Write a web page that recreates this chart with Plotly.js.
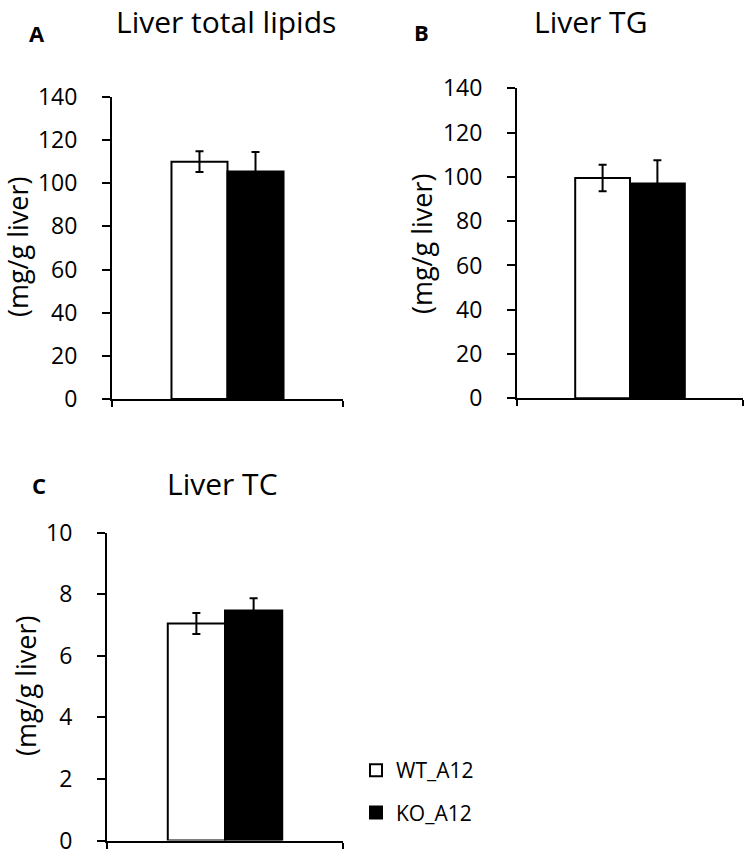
<!DOCTYPE html>
<html><head><meta charset="utf-8">
<script src="https://cdn.plot.ly/plotly-3.0.1.min.js"></script>
<style>html,body{margin:0;padding:0;background:#fff}#chart{width:750px;height:856px}</style>
</head><body><div id="chart"></div>
<script>
// ---- data ----
const groups = ['WT_A12', 'KO_A12'];
const panelTitles = ['Liver total lipids', 'Liver TG', 'Liver TC'];
const panelLetters = ['A', 'B', 'C'];
const wtMean = [110, 99.5, 7.05];
const wtErr = [4.8, 6.0, 0.34];
const koMean = [105.5, 97, 7.47];
const koErr = [9.0, 10.5, 0.40];
const yTicksAB = [0, 20, 40, 60, 80, 100, 120, 140];
const yTicksC = [0, 2, 4, 6, 8, 10];
const yTitle = '(mg/g liver)';

// ---- layout helpers ----
const W = 750, H = 856;
const px = v => v / W;
const py = v => 1 - v / H;
const FONT = "'Open Sans', Lato, sans-serif";

const axesPx = [
  {x0: 112, x1: 343, yBot: 399, yTop: 97, max: 140, ticks: yTicksAB},
  {x0: 517, x1: 743, yBot: 398.3, yTop: 88.3, max: 140, ticks: yTicksAB},
  {x0: 107, x1: 343, yBot: 840.5, yTop: 532.7, max: 10, ticks: yTicksC}
];

const traces = [];
const layout = {
  width: W, height: H,
  margin: {l: 0, r: 0, t: 0, b: 0},
  paper_bgcolor: '#fff', plot_bgcolor: '#fff',
  font: {family: FONT, color: '#000'},
  barmode: 'group', bargap: 0.515, bargroupgap: 0,
  showlegend: true,
  legend: {x: px(356), y: py(750), xanchor: 'left', yanchor: 'top',
           font: {family: FONT, size: 21, color: '#000'},
           traceorder: 'grouped', tracegroupgap: 12, bgcolor: 'rgba(0,0,0,0)'},
  annotations: [], shapes: []
};

const titlePos = [{x: 226, y: 0, a: 'top'}, {x: 590, y: 0, a: 'top'}, {x: 222, y: 483, a: 'middle'}];
const letterPos = [{x: 37, y: 33}, {x: 421, y: 32}, {x: 39, y: 485}];
const ytPos = [{x: 18, y: 247}, {x: 422, y: 244}, {x: 25, y: 686}];

axesPx.forEach((a, i) => {
  const sfx = i === 0 ? '' : String(i + 1);
  const xa = 'x' + sfx, ya = 'y' + sfx;
  const showLeg = i === 2;
  traces.push({
    type: 'bar', x: [0], y: [wtMean[i]], name: groups[0], legendgroup: 'wt',
    xaxis: xa, yaxis: ya, showlegend: showLeg,
    marker: {color: '#ffffff', line: {color: '#000', width: 2}},
    error_y: {type: 'data', array: [wtErr[i]], visible: true, color: '#000', thickness: 2, width: 4}
  });
  traces.push({
    type: 'bar', x: [0], y: [koMean[i]], name: groups[1], legendgroup: 'ko',
    xaxis: xa, yaxis: ya, showlegend: showLeg,
    marker: {color: '#000000', line: {color: '#000', width: 2}},
    error_y: {type: 'data', array: [koErr[i]], visible: true, color: '#000', thickness: 2, width: 4}
  });
  layout['xaxis' + sfx] = {
    domain: [px(a.x0), px(a.x1)], anchor: ya, range: [-0.5, 0.5], type: 'linear',
    showgrid: false, zeroline: false, showline: true, linecolor: '#000', linewidth: 2,
    tickmode: 'array', tickvals: [-0.5, 0.5], ticks: 'outside', ticklen: 6, tickwidth: 2,
    tickcolor: '#000', showticklabels: false, fixedrange: true
  };
  layout['yaxis' + sfx] = {
    domain: [py(a.yBot), py(a.yTop)], anchor: xa, range: [0, a.max],
    showgrid: false, zeroline: false, showline: true, linecolor: '#000', linewidth: 2,
    tickmode: 'array', tickvals: a.ticks, ticks: 'outside', ticklen: 8, tickwidth: 2,
    tickcolor: '#000', ticklabelstandoff: 20, ticklabeloverflow: 'allow',
    tickfont: {family: FONT, size: 23, color: '#000'}, fixedrange: true
  };
  layout.annotations.push({
    xref: 'paper', yref: 'paper', x: px(titlePos[i].x), y: py(titlePos[i].y),
    xanchor: 'center', yanchor: titlePos[i].a, showarrow: false, text: panelTitles[i],
    borderpad: 0, font: {family: FONT, size: 30, color: '#000'}
  });
  layout.annotations.push({
    xref: 'paper', yref: 'paper', x: px(letterPos[i].x), y: py(letterPos[i].y),
    xanchor: 'center', yanchor: 'middle', showarrow: false, text: '<b>' + panelLetters[i] + '</b>',
    font: {family: FONT, size: 22, color: '#000'}
  });
  layout.annotations.push({
    xref: 'paper', yref: 'paper', x: px(ytPos[i].x), y: py(ytPos[i].y),
    xanchor: 'center', yanchor: 'middle', showarrow: false, text: yTitle, textangle: -90,
    font: {family: FONT, size: 27, color: '#000'}
  });
});

Plotly.newPlot('chart', traces, layout, {displayModeBar: false, staticPlot: true});
</script></body></html>
